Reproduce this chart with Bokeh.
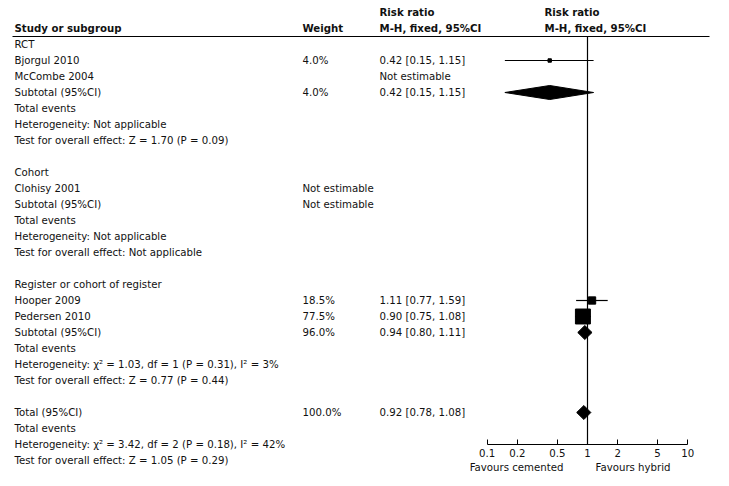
import numpy as np
from bokeh.plotting import figure
from bokeh.models import Range1d, LogScale, LogAxis, FixedTicker, CustomJSTickFormatter, ColumnDataSource
from bokeh.core.properties import value
from bokeh.embed import file_html
from bokeh.resources import INLINE

FONT = "DejaVu Sans"

# ---------------- data ----------------
row_labels = [
    "RCT", "Bjorgul 2010", "McCombe 2004", "Subtotal (95%CI)", "Total events",
    "Heterogeneity: Not applicable", "Test for overall effect: Z = 1.70 (P = 0.09)", "",
    "Cohort", "Clohisy 2001", "Subtotal (95%CI)", "Total events",
    "Heterogeneity: Not applicable", "Test for overall effect: Not applicable", "",
    "Register or cohort of register", "Hooper 2009", "Pedersen 2010", "Subtotal (95%CI)",
    "Total events", "Heterogeneity: χ² = 1.03, df = 1 (P = 0.31), I² = 3%",
    "Test for overall effect: Z = 0.77 (P = 0.44)", "",
    "Total (95%CI)", "Total events",
    "Heterogeneity: χ² = 3.42, df = 2 (P = 0.18), I² = 42%",
    "Test for overall effect: Z = 1.05 (P = 0.29)",
]
weight_labels = ["", "4.0%", "", "4.0%", "", "", "", "",
                 "", "Not estimable", "Not estimable", "", "", "", "",
                 "", "18.5%", "77.5%", "96.0%", "", "", "", "",
                 "100.0%", "", "", ""]
rr_labels = ["", "0.42 [0.15, 1.15]", "Not estimable", "0.42 [0.15, 1.15]", "", "", "", "",
             "", "", "", "", "", "", "",
             "", "1.11 [0.77, 1.59]", "0.90 [0.75, 1.08]", "0.94 [0.80, 1.11]", "", "", "", "",
             "0.92 [0.78, 1.08]", "", "", ""]

study_rows = [1, 16, 17]
study_rr = [0.42, 1.11, 0.90]
study_lo = [0.15, 0.77, 0.75]
study_hi = [1.15, 1.59, 1.08]
study_weight = [4.0, 18.5, 77.5]

pooled_rows = [3, 18, 23]
pooled_rr = [0.42, 0.94, 0.92]
pooled_lo = [0.15, 0.80, 0.78]
pooled_hi = [1.15, 1.11, 1.08]

tick_values = [0.1, 0.2, 0.5, 1, 2, 5, 10]
header_left = ["Study or subgroup", "Weight"]

# ---------------- layout ----------------
W, H = 713, 480
ROW0, DY = 44, 16
def row_y(i):
    return ROW0 + DY * i

X_STUDY, X_WEIGHT, X_RR, X_HDR2 = 14, 302, 379, 544
PX0, PXDEC = 587.0, 100.3   # pixel of RR=1 and pixels per decade

p = figure(width=W, height=H, output_backend="svg", toolbar_location=None,
           x_range=Range1d(0, W), y_range=Range1d(H, 0),
           min_border=0, min_border_left=0, min_border_right=0,
           min_border_top=0, min_border_bottom=0)
p.xaxis.visible = False
p.yaxis.visible = False
p.grid.visible = False
p.outline_line_color = None
p.background_fill_color = "white"
p.border_fill_color = "white"

lo_log = (0 - PX0) / PXDEC
hi_log = (W - PX0) / PXDEC
p.extra_x_ranges = {"rr": Range1d(10 ** lo_log, 10 ** hi_log)}
p.extra_x_scales = {"rr": LogScale()}

# text columns
ys = [row_y(i) for i in range(len(row_labels))]
src = ColumnDataSource(dict(y=ys, lab=row_labels, w=weight_labels, rr=rr_labels))
common = dict(text_font=value(FONT), text_font_size="10.2px", text_color="#111111",
              text_baseline="middle", text_align="left")
p.text(x=X_STUDY, y="y", text="lab", source=src, **common)
p.text(x=X_WEIGHT, y="y", text="w", source=src, **common)
p.text(x=X_RR, y="y", text="rr", source=src, **common)

# headers
hdr = dict(text_font=value(FONT), text_font_size="10.2px", text_font_style="bold",
           text_color="#111111", text_baseline="middle", text_align="left")
p.text(x=[X_STUDY, X_WEIGHT], y=[28, 28], text=header_left, **hdr)
p.text(x=[X_RR, X_RR, X_HDR2, X_HDR2], y=[12, 28, 12, 28],
       text=["Risk ratio", "M-H, fixed, 95%CI", "Risk ratio", "M-H, fixed, 95%CI"], **hdr)

# header rule
p.segment(x0=[12], y0=[36], x1=[709], y1=[36], line_color="black", line_width=1)

# null line
p.segment(x0=[1], y0=[36], x1=[1], y1=[443.5], x_range_name="rr",
          line_color="black", line_width=1.2)

# study CIs and squares
sy = [row_y(i) for i in study_rows]
p.segment(x0=study_lo, y0=sy, x1=study_hi, y1=sy, x_range_name="rr",
          line_color="black", line_width=1.2)
p.scatter(x=study_rr, y=sy, size=[1.7 * np.sqrt(w) for w in study_weight],
          marker="square", x_range_name="rr", fill_color="black", line_color="black")

# pooled diamonds
dxs = [[lo, r, hi, r] for lo, r, hi in zip(pooled_lo, pooled_rr, pooled_hi)]
dys = [[row_y(i), row_y(i) - 7, row_y(i), row_y(i) + 7] for i in pooled_rows]
p.patches(xs=dxs, ys=dys, x_range_name="rr", fill_color="black", line_color="black")

# axis
ax = LogAxis(x_range_name="rr", ticker=FixedTicker(ticks=tick_values),
             formatter=CustomJSTickFormatter(code="return tick.toString();"))
ax.bounds = (0.1, 10)
ax.fixed_location = 443.5
ax.major_tick_in = 5
ax.major_tick_out = 0
ax.minor_tick_line_color = None
ax.axis_line_color = "black"
ax.major_tick_line_color = "black"
ax.major_label_text_font = FONT
ax.major_label_text_font_size = "10.2px"
ax.major_label_text_color = "#111111"
ax.major_label_standoff = 5
p.add_layout(ax, "below")

fav = dict(text_font=value(FONT), text_font_size="10.2px", text_color="#111111",
           text_baseline="middle")
p.text(x=[563], y=[467], text=["Favours cemented"], text_align="right", **fav)
p.text(x=[595], y=[467], text=["Favours hybrid"], text_align="left", **fav)

open("out.html", "w").write(file_html(p, INLINE))
